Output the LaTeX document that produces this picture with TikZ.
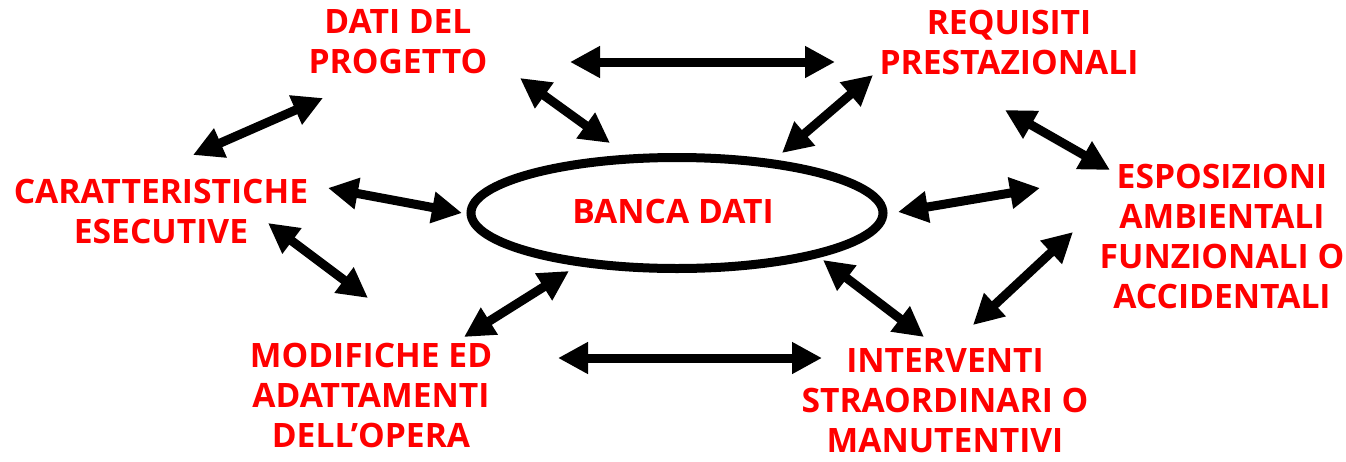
\documentclass[tikz,border=0pt]{standalone}
\usepackage{fontspec}
\setmainfont{Open Sans}
\usetikzlibrary{arrows.meta,shapes.geometric}
\tikzset{
  lbl/.style={text=red, font=\bfseries\fontsize{33.6}{40}\selectfont, align=center, inner sep=0pt},
  dbl/.style={line width=9pt, {Triangle[length=30pt,width=30pt]}-{Triangle[length=30pt,width=30pt]}},
  db/.style={ellipse, draw, line width=9pt, minimum width=412pt, minimum height=111pt, inner sep=0pt}
}
\begin{document}
\begin{tikzpicture}[x=1pt,y=-1pt]
\useasboundingbox (0,0) rectangle (1346,461);
\node[db] (bd) at (677,213) {};
\node[lbl] (bdt) at (673,211) {BANCA DATI};
\node[lbl] (dati) at (398,42) {DATI DEL\\PROGETTO};
\node[lbl] (req) at (1009,42) {REQUISITI\\PRESTAZIONALI};
\node[lbl] (car) at (161,211) {CARATTERISTICHE\\ESECUTIVE};
\node[lbl] (esp) at (1222,236) {ESPOSIZIONI\\AMBIENTALI\\FUNZIONALI O\\ACCIDENTALI};
\node[lbl] (mod) at (371,395) {MODIFICHE ED\\ADATTAMENTI\\DELL’OPERA};
\node[lbl] (int) at (945,401) {INTERVENTI\\STRAORDINARI O\\MANUTENTIVI};
% arrow end points
\coordinate (a1s) at (570,62);   \coordinate (a1e) at (835,62);
\coordinate (a2s) at (520,78);   \coordinate (a2e) at (610,143);
\coordinate (a3s) at (193,155);  \coordinate (a3e) at (323,98);
\coordinate (a4s) at (328,188);  \coordinate (a4e) at (462,213);
\coordinate (a5s) at (268,223);  \coordinate (a5e) at (368,298);
\coordinate (a6s) at (464,337);  \coordinate (a6e) at (569,271);
\coordinate (a7s) at (558,358);  \coordinate (a7e) at (822,358);
\coordinate (a8s) at (823,260);  \coordinate (a8e) at (924,337);
\coordinate (a9s) at (973,325);  \coordinate (a9e) at (1073,232);
\coordinate (a10s) at (898,212); \coordinate (a10e) at (1040,188);
\coordinate (a11s) at (1005,110); \coordinate (a11e) at (1110,170);
\coordinate (a12s) at (782,153); \coordinate (a12e) at (873,75);
\foreach \i in {1,...,12} {\draw[dbl] (a\i s) -- (a\i e);}
\end{tikzpicture}
\end{document}
